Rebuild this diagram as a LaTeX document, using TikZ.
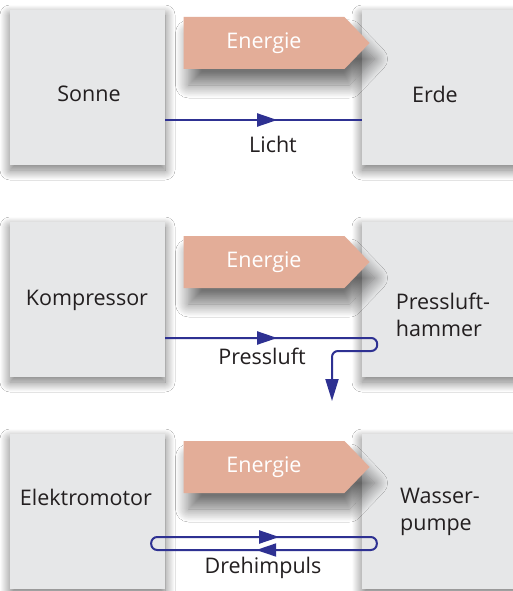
\documentclass[tikz,border=0pt]{standalone}
\usepackage{fontspec}
\setmainfont{Open Sans}
\usetikzlibrary{shapes.symbols,shadows.blur,arrows.meta,decorations.markings}
\definecolor{boxgray}{HTML}{E6E7E8}
\definecolor{energy}{HTML}{E3AD98}
\definecolor{flowblue}{HTML}{2E3192}
\definecolor{txt}{HTML}{231F20}
\tikzset{
  sysbox/.style={rectangle, fill=boxgray, draw=none, minimum width=155pt, minimum height=155pt, inner sep=0pt,
    blur shadow={shadow xshift=0pt, shadow yshift=-5pt, shadow blur radius=10pt, shadow opacity=55, shadow blur steps=20}},
  boxtext/.style={text=txt, align=left, font=\fontsize{21.5}{27}\selectfont},
  energyarrow/.style={signal, signal to=east, signal pointer angle=92, fill=energy, draw=none,
    minimum width=186pt, minimum height=52pt, inner sep=0pt, text=white, font=\fontsize{21.5}{24}\selectfont,
    blur shadow={shadow xshift=5pt, shadow yshift=-16pt, shadow blur radius=13pt, shadow opacity=55, shadow blur steps=20}},
  flowlabel/.style={text=txt, font=\fontsize{21.5}{24}\selectfont},
  flow/.style={draw=flowblue, line width=2pt},
  tipat/.style={postaction={decorate, decoration={markings,
    mark=at position #1 with {\arrow{Triangle[length=20pt,width=13pt]}}}}},
  tipback/.style={postaction={decorate, decoration={markings,
    mark=at position #1 with {\arrow{Triangle[length=20pt,width=13pt]}}}}}
}
\begin{document}
\begin{tikzpicture}[x=1pt,y=-1pt]
\useasboundingbox (0,0) rectangle (513,591);
\fill[white] (0,0) rectangle (513,591);

% row 1
\node[sysbox] (sonne) at (87.5,87.5) {};
\node[sysbox, minimum width=160pt] (erde) at (442,87.5) {};
\node[boxtext] (tsonne) at (89,94) {Sonne};
\node[boxtext] (terde) at (435,94) {Erde};
\node[energyarrow] (e1) at (264,43) {Energie};
\draw[flow, tipat=112pt] ([yshift=-32.5pt]sonne.east) -- ([yshift=-32.5pt]erde.west);
\node[flowlabel] (licht) at (273,144) {Licht};

% row 2
\node[sysbox] (kompressor) at (87.5,299.5) {};
\node[sysbox, minimum width=160pt] (hammer) at (442,299.5) {};
\node[boxtext] (tkomp) at (87,300) {Kompressor};
\node[boxtext] (thammer) at (443,315) {Pressluft-\\hammer};
\node[energyarrow] (e2) at (264,262) {Energie};
\coordinate (pend) at (332,401);
\draw[flow, rounded corners=6pt, tipat=112pt, -{Triangle[length=22pt,width=13pt]}]
  ([yshift=-38.5pt]kompressor.east) -- ++(212,0) -- ++(0,13) -- (pend |- 0,351) -- (pend);
\node[flowlabel] (pressluft) at (262,356) {Pressluft};

% row 3
\node[sysbox] (motor) at (87.5,511.5) {};
\node[sysbox, minimum width=160pt] (pumpe) at (442,511.5) {};
\node[boxtext] (tmotor) at (86,497) {Elektromotor};
\node[boxtext] (tpumpe) at (440,512) {Wasser-\\pumpe};
\node[energyarrow] (e3) at (264,467) {Energie};
\draw[flow, rounded corners=6pt, tipat=122pt, tipback=348pt]
  ([xshift=-14pt,yshift=-25.5pt]motor.east) -- ([xshift=15pt,yshift=-25.5pt]pumpe.west)
  -- ([xshift=15pt,yshift=-38.5pt]pumpe.west) -- ([xshift=-14pt,yshift=-38.5pt]motor.east) -- cycle;
\node[flowlabel] (dreh) at (263,568) {Drehimpuls};
\end{tikzpicture}
\end{document}
